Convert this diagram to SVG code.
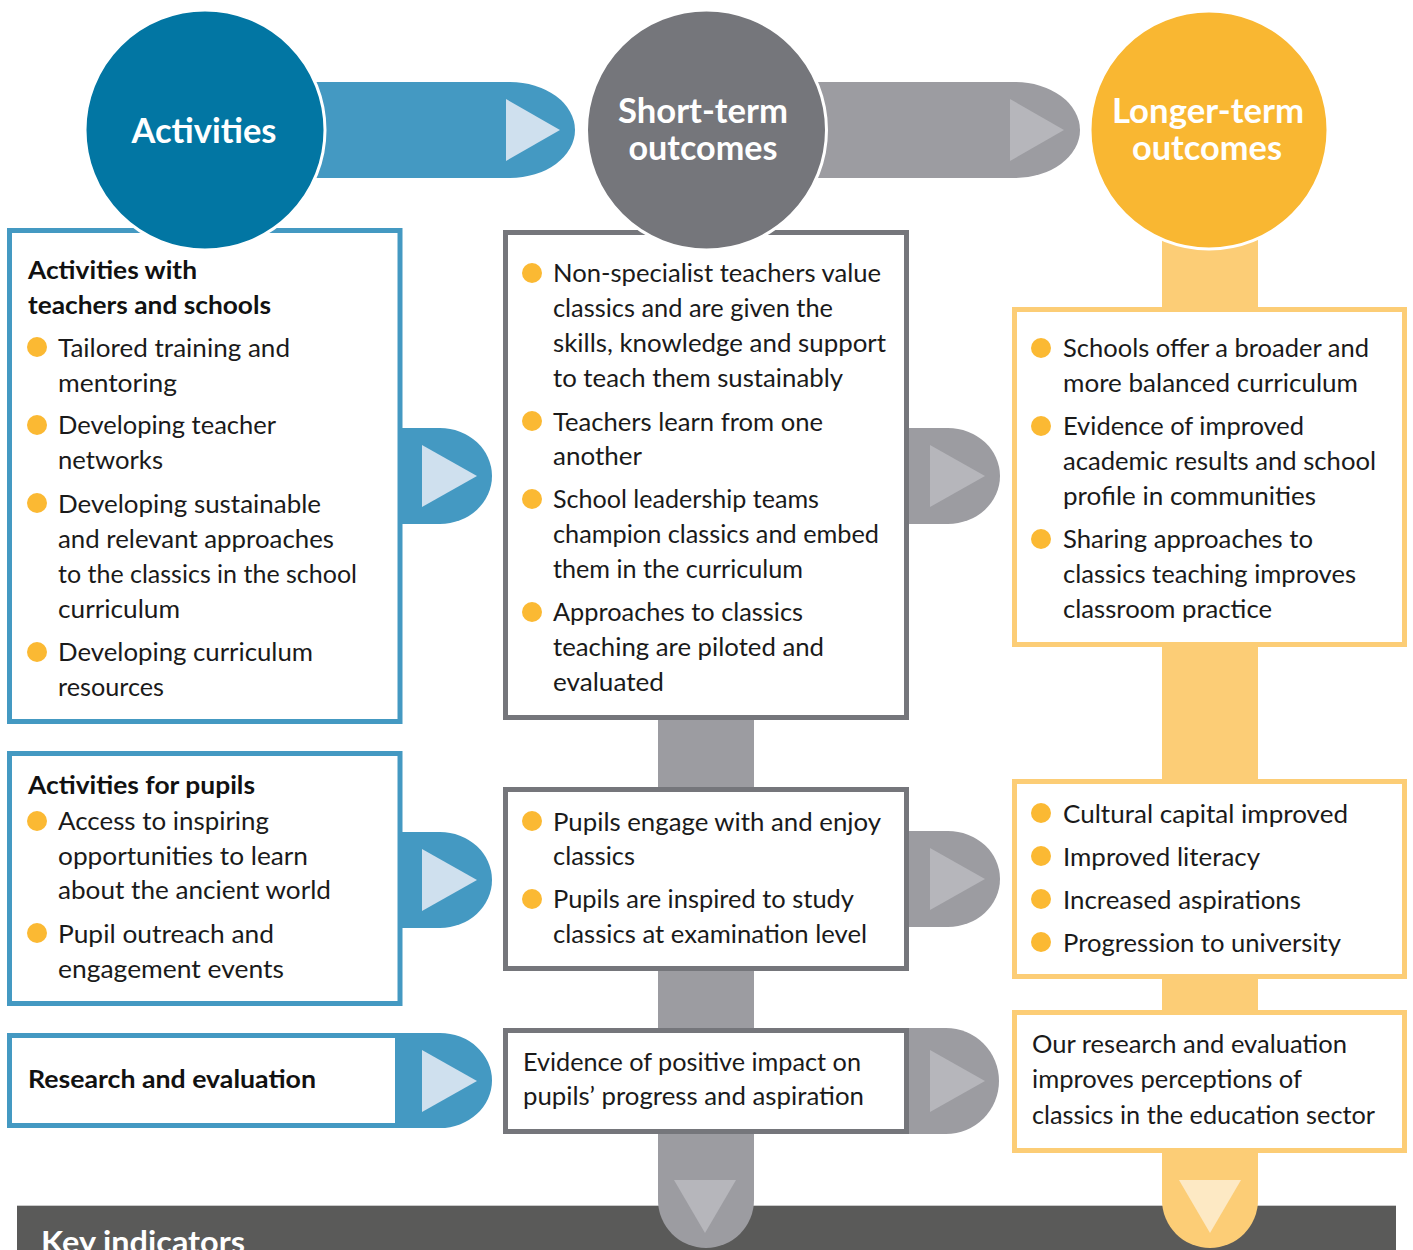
<svg xmlns="http://www.w3.org/2000/svg" width="1413" height="1250" viewBox="0 0 1413 1250">
<style>
.t{font-family:Lato,"Open Sans","Liberation Sans",sans-serif;font-size:25px;fill:#1a1a1a}
.h{font-family:Lato,"Open Sans","Liberation Sans",sans-serif;font-size:25px;font-weight:700;fill:#111}
.c{font-family:Lato,"Open Sans","Liberation Sans",sans-serif;font-size:34px;font-weight:700;fill:#fff;text-anchor:middle}
.k{font-family:Lato,"Open Sans","Liberation Sans",sans-serif;font-size:30px;font-weight:700;fill:#fff}
.bb{fill:#fff;stroke:#4499c2;stroke-width:5}
.gb{fill:#fff;stroke:#75767b;stroke-width:5}
.yb{fill:#fff;stroke:#fccd76;stroke-width:5}
.dot{fill:#fbb933}
.bt{fill:#4499c2}
.gt{fill:#9c9ca1}
.yt{fill:#fccd76}
.btri{fill:#cfe0ee}
.gtri{fill:#b6b6bb}
.ytri{fill:#fde9c4}
.circ{stroke:#fff;stroke-width:3}
</style>
<rect width="1413" height="1250" fill="#fff"/>
<g id="key-indicators">
<rect x="17" y="1205.5" width="1379" height="45" fill="#5a5a59"/>
<line x1="17" y1="1205.5" x2="1396" y2="1205.5" stroke="#cacaca" stroke-width="1"/>
<text class="k" x="41" y="1253" textLength="204" lengthAdjust="spacingAndGlyphs">Key indicators</text>
</g>
<g id="connectors">
<path class="gt" d="M658 700V1200A48 48 0 0 0 754 1200V700Z"/>
<polygon class="gtri" points="674,1180 736,1180 705,1233"/>
<path class="yt" d="M1162 200V1200A48 48 0 0 0 1258 1200V200Z"/>
<polygon class="ytri" points="1179,1180 1241,1180 1210,1233"/>
<path class="bt" d="M300 82H510A65 48 0 0 1 510 178H300Z"/>
<polygon class="btri" points="506,99 560,130 506,161"/>
<path class="gt" d="M800 82H1015A65 48 0 0 1 1015 178H800Z"/>
<polygon class="gtri" points="1010,99 1064,130 1010,161"/>
<path class="bt" d="M395 428H440A52 48 0 0 1 440 524H395Z"/>
<polygon class="btri" points="422,445 477,476 422,507"/>
<path class="bt" d="M395 832H440A52 48 0 0 1 440 928H395Z"/>
<polygon class="btri" points="422,849 477,880 422,911"/>
<path class="bt" d="M395 1033H440A52 47.5 0 0 1 440 1128H395Z"/>
<polygon class="btri" points="422,1050 477,1081 422,1112"/>
<path class="gt" d="M900 428H948A52 48 0 0 1 948 524H900Z"/>
<polygon class="gtri" points="930,445 985,476 930,507"/>
<path class="gt" d="M900 831H948A52 48 0 0 1 948 927H900Z"/>
<polygon class="gtri" points="930,848 985,879 930,910"/>
<path class="gt" d="M900 1028H946A53 53 0 0 1 946 1134H900Z"/>
<polygon class="gtri" points="930,1050 985,1081 930,1112"/>
</g>
<g id="box-teachers">
<rect class="bb" x="9.5" y="230.5" width="390.5" height="491"/>
<text class="h" x="28" y="279" textLength="169" lengthAdjust="spacingAndGlyphs">Activities with</text>
<text class="h" x="28" y="314" textLength="243" lengthAdjust="spacingAndGlyphs">teachers and schools</text>
<circle class="dot" cx="37" cy="347" r="10"/>
<text class="t" x="58" y="357" textLength="232" lengthAdjust="spacingAndGlyphs">Tailored training and</text>
<text class="t" x="58" y="392" textLength="119" lengthAdjust="spacingAndGlyphs">mentoring</text>
<circle class="dot" cx="37" cy="425" r="10"/>
<text class="t" x="58" y="434" textLength="218" lengthAdjust="spacingAndGlyphs">Developing teacher</text>
<text class="t" x="58" y="469" textLength="105" lengthAdjust="spacingAndGlyphs">networks</text>
<circle class="dot" cx="37" cy="503" r="10"/>
<text class="t" x="58" y="513" textLength="263" lengthAdjust="spacingAndGlyphs">Developing sustainable</text>
<text class="t" x="58" y="548" textLength="276" lengthAdjust="spacingAndGlyphs">and relevant approaches</text>
<text class="t" x="58" y="583" textLength="299" lengthAdjust="spacingAndGlyphs">to the classics in the school</text>
<text class="t" x="58" y="618" textLength="122" lengthAdjust="spacingAndGlyphs">curriculum</text>
<circle class="dot" cx="37" cy="652" r="10"/>
<text class="t" x="58" y="661" textLength="255" lengthAdjust="spacingAndGlyphs">Developing curriculum</text>
<text class="t" x="58" y="696" textLength="106" lengthAdjust="spacingAndGlyphs">resources</text>
</g>
<g id="box-pupils">
<rect class="bb" x="9.5" y="753.5" width="390.5" height="250"/>
<text class="h" x="28" y="794" textLength="227" lengthAdjust="spacingAndGlyphs">Activities for pupils</text>
<circle class="dot" cx="37" cy="821" r="10"/>
<text class="t" x="58" y="830" textLength="211" lengthAdjust="spacingAndGlyphs">Access to inspiring</text>
<text class="t" x="58" y="865" textLength="250" lengthAdjust="spacingAndGlyphs">opportunities to learn</text>
<text class="t" x="58" y="899" textLength="273" lengthAdjust="spacingAndGlyphs">about the ancient world</text>
<circle class="dot" cx="37" cy="933" r="10"/>
<text class="t" x="58" y="943" textLength="216" lengthAdjust="spacingAndGlyphs">Pupil outreach and</text>
<text class="t" x="58" y="978" textLength="226" lengthAdjust="spacingAndGlyphs">engagement events</text>
</g>
<g id="box-research">
<rect class="bb" x="9.5" y="1035.5" width="388" height="90"/>
<text class="h" x="28" y="1088" textLength="288" lengthAdjust="spacingAndGlyphs">Research and evaluation</text>
</g>
<g id="box-short-1">
<rect class="gb" x="505.5" y="232.5" width="401" height="485"/>
<circle class="dot" cx="532" cy="273" r="10"/>
<text class="t" x="553" y="282" textLength="328" lengthAdjust="spacingAndGlyphs">Non-specialist teachers value</text>
<text class="t" x="553" y="317" textLength="280" lengthAdjust="spacingAndGlyphs">classics and are given the</text>
<text class="t" x="553" y="352" textLength="333" lengthAdjust="spacingAndGlyphs">skills, knowledge and support</text>
<text class="t" x="553" y="387" textLength="290" lengthAdjust="spacingAndGlyphs">to teach them sustainably</text>
<circle class="dot" cx="532" cy="421" r="10"/>
<text class="t" x="553" y="431" textLength="270" lengthAdjust="spacingAndGlyphs">Teachers learn from one</text>
<text class="t" x="553" y="465" textLength="89" lengthAdjust="spacingAndGlyphs">another</text>
<circle class="dot" cx="532" cy="499" r="10"/>
<text class="t" x="553" y="508" textLength="266" lengthAdjust="spacingAndGlyphs">School leadership teams</text>
<text class="t" x="553" y="543" textLength="326" lengthAdjust="spacingAndGlyphs">champion classics and embed</text>
<text class="t" x="553" y="578" textLength="250" lengthAdjust="spacingAndGlyphs">them in the curriculum</text>
<circle class="dot" cx="532" cy="612" r="10"/>
<text class="t" x="553" y="621" textLength="250" lengthAdjust="spacingAndGlyphs">Approaches to classics</text>
<text class="t" x="553" y="656" textLength="271" lengthAdjust="spacingAndGlyphs">teaching are piloted and</text>
<text class="t" x="553" y="691" textLength="111" lengthAdjust="spacingAndGlyphs">evaluated</text>
</g>
<g id="box-short-2">
<rect class="gb" x="505.5" y="789.5" width="401" height="179"/>
<circle class="dot" cx="532" cy="821" r="10"/>
<text class="t" x="553" y="831" textLength="328" lengthAdjust="spacingAndGlyphs">Pupils engage with and enjoy</text>
<text class="t" x="553" y="865" textLength="82" lengthAdjust="spacingAndGlyphs">classics</text>
<circle class="dot" cx="532" cy="899" r="10"/>
<text class="t" x="553" y="908" textLength="301" lengthAdjust="spacingAndGlyphs">Pupils are inspired to study</text>
<text class="t" x="553" y="943" textLength="314" lengthAdjust="spacingAndGlyphs">classics at examination level</text>
</g>
<g id="box-short-3">
<rect class="gb" x="505.5" y="1030.5" width="401" height="101"/>
<text class="t" x="523" y="1071" textLength="338" lengthAdjust="spacingAndGlyphs">Evidence of positive impact on</text>
<text class="t" x="523" y="1105" textLength="341" lengthAdjust="spacingAndGlyphs">pupils’ progress and aspiration</text>
</g>
<g id="box-long-1">
<rect class="yb" x="1014.5" y="309.5" width="390" height="335"/>
<circle class="dot" cx="1041" cy="348" r="10"/>
<text class="t" x="1063" y="357" textLength="306" lengthAdjust="spacingAndGlyphs">Schools offer a broader and</text>
<text class="t" x="1063" y="392" textLength="295" lengthAdjust="spacingAndGlyphs">more balanced curriculum</text>
<circle class="dot" cx="1041" cy="426" r="10"/>
<text class="t" x="1063" y="435" textLength="241" lengthAdjust="spacingAndGlyphs">Evidence of improved</text>
<text class="t" x="1063" y="470" textLength="313" lengthAdjust="spacingAndGlyphs">academic results and school</text>
<text class="t" x="1063" y="505" textLength="253" lengthAdjust="spacingAndGlyphs">profile in communities</text>
<circle class="dot" cx="1041" cy="539" r="10"/>
<text class="t" x="1063" y="548" textLength="250" lengthAdjust="spacingAndGlyphs">Sharing approaches to</text>
<text class="t" x="1063" y="583" textLength="293" lengthAdjust="spacingAndGlyphs">classics teaching improves</text>
<text class="t" x="1063" y="618" textLength="209" lengthAdjust="spacingAndGlyphs">classroom practice</text>
</g>
<g id="box-long-2">
<rect class="yb" x="1014.5" y="781.5" width="390" height="195"/>
<circle class="dot" cx="1041" cy="813" r="10"/>
<text class="t" x="1063" y="823" textLength="285" lengthAdjust="spacingAndGlyphs">Cultural capital improved</text>
<circle class="dot" cx="1041" cy="856" r="10"/>
<text class="t" x="1063" y="866" textLength="197" lengthAdjust="spacingAndGlyphs">Improved literacy</text>
<circle class="dot" cx="1041" cy="899" r="10"/>
<text class="t" x="1063" y="909" textLength="238" lengthAdjust="spacingAndGlyphs">Increased aspirations</text>
<circle class="dot" cx="1041" cy="942" r="10"/>
<text class="t" x="1063" y="952" textLength="278" lengthAdjust="spacingAndGlyphs">Progression to university</text>
</g>
<g id="box-long-3">
<rect class="yb" x="1014.5" y="1012.5" width="390" height="138"/>
<text class="t" x="1032" y="1053" textLength="315" lengthAdjust="spacingAndGlyphs">Our research and evaluation</text>
<text class="t" x="1032" y="1088" textLength="270" lengthAdjust="spacingAndGlyphs">improves perceptions of</text>
<text class="t" x="1032" y="1124" textLength="343" lengthAdjust="spacingAndGlyphs">classics in the education sector</text>
</g>
<g id="circle-activities">
<circle class="circ" cx="205" cy="130" r="120" fill="#0276a3"/>
<text class="c" x="204" y="143" textLength="145" lengthAdjust="spacingAndGlyphs">Activities</text>
</g>
<g id="circle-short-term">
<circle class="circ" cx="706.5" cy="130" r="120" fill="#75767b"/>
<text class="c" x="703" y="123" textLength="170" lengthAdjust="spacingAndGlyphs">Short-term</text>
<text class="c" x="703" y="160" textLength="149" lengthAdjust="spacingAndGlyphs">outcomes</text>
</g>
<g id="circle-longer-term">
<circle class="circ" cx="1209" cy="130" r="119" fill="#f9b732"/>
<text class="c" x="1208" y="123" textLength="192" lengthAdjust="spacingAndGlyphs">Longer-term</text>
<text class="c" x="1207" y="160" textLength="150" lengthAdjust="spacingAndGlyphs">outcomes</text>
</g>
</svg>
